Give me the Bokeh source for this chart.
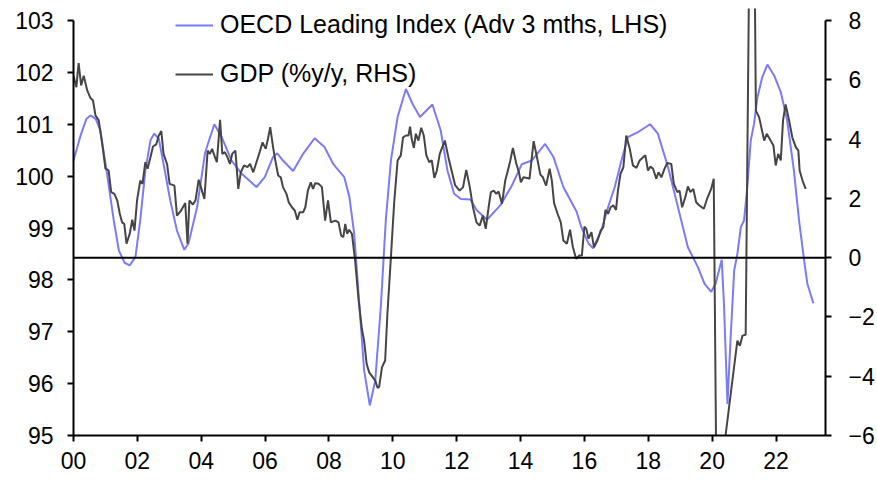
from bokeh.plotting import figure
from bokeh.models import Range1d, LinearAxis, FixedTicker, Span, Legend, LegendItem
from bokeh.embed import file_html
from bokeh.resources import INLINE

# ---- data ----
oecd_dates = [2000.0, 2000.22, 2000.4, 2000.53, 2000.7, 2000.84, 2001.05, 2001.26, 2001.42, 2001.6,
              2001.76, 2001.94, 2002.09, 2002.25, 2002.41, 2002.53, 2002.67, 2002.82, 2003.03, 2003.24,
              2003.47, 2003.6, 2003.87, 2004.12, 2004.41, 2004.64, 2004.95, 2005.26, 2005.73, 2005.99,
              2006.25, 2006.38, 2006.56, 2006.88, 2007.19, 2007.55, 2007.86, 2008.13, 2008.22, 2008.48,
              2008.64, 2008.79, 2008.95, 2009.1, 2009.28, 2009.45, 2009.63, 2009.78, 2009.94, 2010.15,
              2010.41, 2010.62, 2010.85, 2011.24, 2011.5, 2011.71, 2011.92, 2012.13, 2012.43, 2012.63,
              2012.95, 2013.37, 2013.73, 2014.04, 2014.35, 2014.77, 2015.03, 2015.34, 2015.76, 2015.9,
              2016.13, 2016.27, 2016.53, 2016.74, 2016.95, 2017.16, 2017.36, 2017.68, 2018.06, 2018.3,
              2018.62, 2018.93, 2019.24, 2019.55, 2019.76, 2019.97, 2020.11, 2020.3, 2020.37, 2020.48,
              2020.58, 2020.69, 2020.79, 2020.9, 2021.0, 2021.1, 2021.21, 2021.31, 2021.42, 2021.57,
              2021.73, 2021.94, 2022.15, 2022.35, 2022.56, 2022.72, 2022.88, 2022.98, 2023.17]
oecd_values = [100.30, 100.78, 101.10, 101.17, 101.10, 100.88, 100.05, 99.15, 98.57, 98.33,
               98.28, 98.44, 99.15, 100.10, 100.69, 100.82, 100.72, 100.24, 99.53, 98.95,
               98.58, 98.70, 99.40, 100.45, 101.00, 100.75, 100.30, 100.05, 99.79, 99.98,
               100.37, 100.44, 100.30, 100.10, 100.43, 100.73, 100.56, 100.24, 100.17, 99.98,
               99.60, 98.89, 97.54, 96.26, 95.58, 96.06, 97.54, 99.15, 100.30, 101.14,
               101.68, 101.39, 101.14, 101.38, 100.88, 100.11, 99.66, 99.56, 99.55, 99.34,
               99.16, 99.44, 99.82, 100.23, 100.30, 100.62, 100.37, 99.79, 99.31, 99.02,
               98.70, 98.61, 98.95, 99.40, 99.79, 100.30, 100.75, 100.85, 101.00, 100.82,
               100.17, 99.40, 98.63, 98.25, 97.93, 97.77, 97.93, 98.39, 97.54, 95.61,
               96.90, 98.18, 98.50, 99.02, 99.15, 99.79, 100.69, 101.00, 101.52, 101.91,
               102.15, 101.94, 101.62, 101.07, 100.11, 99.15, 98.38, 97.93, 97.55]

gdp_dates = [2000.0, 2000.09, 2000.16, 2000.24, 2000.32, 2000.43, 2000.53, 2000.61, 2000.69, 2000.79,
             2000.9, 2001.0, 2001.1, 2001.18, 2001.28, 2001.37, 2001.45, 2001.52, 2001.59, 2001.66,
             2001.76, 2001.84, 2001.91, 2001.99, 2002.09, 2002.16, 2002.25, 2002.32, 2002.41, 2002.49,
             2002.59, 2002.67, 2002.75, 2002.82, 2002.93, 2003.01, 2003.16, 2003.24, 2003.37, 2003.5,
             2003.57, 2003.63, 2003.74, 2003.82, 2003.92, 2003.99, 2004.1, 2004.2, 2004.27, 2004.34,
             2004.43, 2004.49, 2004.59, 2004.66, 2004.74, 2004.82, 2004.9, 2004.97, 2005.07, 2005.16,
             2005.24, 2005.34, 2005.45, 2005.53, 2005.63, 2005.73, 2005.83, 2005.92, 2006.02, 2006.09,
             2006.16, 2006.25, 2006.32, 2006.41, 2006.49, 2006.56, 2006.67, 2006.74, 2006.84, 2006.93,
             2007.01, 2007.08, 2007.19, 2007.26, 2007.34, 2007.43, 2007.5, 2007.57, 2007.68, 2007.78,
             2007.88, 2007.97, 2008.06, 2008.2, 2008.3, 2008.38, 2008.45, 2008.51, 2008.57, 2008.63,
             2008.72, 2008.82, 2008.93, 2009.03, 2009.1, 2009.18, 2009.26, 2009.37, 2009.45, 2009.52,
             2009.57, 2009.66, 2009.76, 2009.83, 2009.94, 2010.04, 2010.15, 2010.25, 2010.32, 2010.41,
             2010.49, 2010.54, 2010.59, 2010.66, 2010.72, 2010.8, 2010.89, 2010.97, 2011.05, 2011.14,
             2011.22, 2011.3, 2011.38, 2011.47, 2011.55, 2011.63, 2011.74, 2011.84, 2011.95, 2012.09,
             2012.2, 2012.3, 2012.41, 2012.51, 2012.62, 2012.72, 2012.82, 2012.91, 2013.0, 2013.07,
             2013.16, 2013.24, 2013.31, 2013.42, 2013.52, 2013.59, 2013.68, 2013.76, 2013.87, 2013.95,
             2014.01, 2014.09, 2014.2, 2014.28, 2014.41, 2014.51, 2014.62, 2014.7, 2014.8, 2014.91,
             2014.98, 2015.05, 2015.16, 2015.26, 2015.34, 2015.45, 2015.55, 2015.64, 2015.74, 2015.84,
             2015.92, 2016.0, 2016.06, 2016.13, 2016.22, 2016.3, 2016.41, 2016.51, 2016.59, 2016.66,
             2016.74, 2016.82, 2016.91, 2016.99, 2017.05, 2017.13, 2017.22, 2017.31, 2017.42, 2017.52,
             2017.63, 2017.73, 2017.84, 2017.91, 2017.99, 2018.07, 2018.15, 2018.25, 2018.32, 2018.41,
             2018.51, 2018.59, 2018.72, 2018.8, 2018.91, 2018.98, 2019.06, 2019.16, 2019.24, 2019.32,
             2019.41, 2019.5, 2019.6, 2019.74, 2019.84, 2019.97, 2020.05, 2020.25, 2020.42, 2020.79,
             2020.87, 2020.95, 2021.05, 2021.25, 2021.37, 2021.47, 2021.63, 2021.71, 2021.83, 2021.92,
             2021.99, 2022.07, 2022.15, 2022.22, 2022.3, 2022.41, 2022.51, 2022.62, 2022.7, 2022.74,
             2022.83, 2022.93]
gdp_values = [6.14, 5.75, 6.56, 5.81, 6.14, 5.64, 5.39, 5.30, 4.79, 4.63,
              3.84, 3.00, 2.94, 2.21, 2.15, 1.93, 1.48, 1.19, 1.14, 0.47,
              0.80, 1.28, 0.91, 1.93, 2.60, 2.49, 3.22, 3.00, 3.39, 3.75,
              3.82, 4.12, 4.27, 3.50, 3.16, 2.49, 2.43, 1.42, 1.59, 1.84,
              0.47, 1.93, 1.79, 1.93, 2.63, 2.38, 1.98, 3.61, 3.50, 3.67,
              3.39, 3.22, 4.65, 3.50, 3.56, 3.39, 3.16, 3.50, 3.61, 2.32,
              2.88, 3.11, 3.05, 3.16, 2.88, 3.22, 3.56, 3.89, 3.67, 4.01,
              4.40, 3.73, 3.28, 2.77, 2.71, 2.38, 2.15, 1.87, 1.70, 1.59,
              1.28, 1.53, 1.53, 1.70, 2.26, 2.54, 2.32, 2.51, 2.49, 2.38,
              1.25, 1.93, 1.19, 1.25, 1.19, 0.75, 0.69, 1.14, 0.80, 0.94,
              0.80, -0.10, -1.45, -2.40, -2.80, -3.58, -3.87, -4.03, -4.15, -4.39,
              -4.37, -3.70, -3.47, -1.90, 0.01, 1.82, 3.28, 3.45, 4.06, 4.12,
              4.12, 4.42, 4.01, 3.70, 4.18, 3.95, 4.38, 4.12, 3.45, 3.22,
              3.28, 2.69, 2.94, 3.50, 3.73, 3.95, 3.39, 2.94, 2.45, 2.26,
              2.38, 2.96, 2.38, 1.70, 1.19, 1.08, 1.42, 0.97, 1.70, 2.21,
              2.26, 2.15, 2.23, 1.82, 2.60, 2.88, 3.28, 3.70, 3.16, 2.88,
              2.54, 2.71, 2.69, 2.66, 3.93, 3.41, 2.80, 2.71, 2.43, 3.00,
              2.60, 1.84, 1.48, 1.19, 0.58, 0.47, 0.94, 0.35, -0.04, 0.07,
              0.07, 1.05, 0.97, 0.64, 0.86, 0.35, 0.58, 0.91, 1.03, 1.61,
              1.48, 1.70, 1.76, 1.61, 2.26, 2.83, 3.05, 4.12, 3.67, 3.11,
              3.03, 3.28, 3.39, 3.45, 2.94, 3.07, 3.00, 2.66, 2.88, 2.71,
              3.00, 3.19, 3.16, 2.49, 2.21, 2.26, 1.70, 2.04, 2.40, 2.21,
              2.32, 1.87, 1.76, 1.65, 1.98, 2.32, 2.66, -22.0, -6.0, -2.80,
              -2.97, -2.63, -2.60, 20.0, 4.96, 4.74, 3.95, 4.18, 3.95, 3.78,
              3.11, 3.50, 3.28, 4.63, 5.17, 4.63, 4.06, 3.73, 3.61, 2.94,
              2.60, 2.32]

x_tick_years = [2000, 2002, 2004, 2006, 2008, 2010, 2012, 2014, 2016, 2018, 2020, 2022]
x_tick_labels = ["00", "02", "04", "06", "08", "10", "12", "14", "16", "18", "20", "22"]
left_ticks = [95, 96, 97, 98, 99, 100, 101, 102, 103]
right_ticks = [-6, -4, -2, 0, 2, 4, 6, 8]

oecd_label = "OECD Leading Index (Adv 3 mths, LHS)"
gdp_label = "GDP (%y/y, RHS)"

# ---- layout constants ----
FONT = "Liberation Sans"
LEFT_MIN, LEFT_MAX = 95, 103
RIGHT_MIN, RIGHT_MAX = -6, 8
PLOT_H = 415          # pixel height of the axis span
HEADROOM = 12         # extra frame pixels above the top tick (room for the legend)
left_top = LEFT_MAX + HEADROOM * (LEFT_MAX - LEFT_MIN) / PLOT_H
right_top = RIGHT_MAX + HEADROOM * (RIGHT_MAX - RIGHT_MIN) / PLOT_H

p = figure(width=877, height=490, output_backend="svg", toolbar_location=None,
           x_range=Range1d(2000, 2023.55), y_range=Range1d(LEFT_MIN, left_top),
           min_border_left=73, min_border_right=50, min_border_top=20 - HEADROOM,
           min_border_bottom=55)
p.extra_y_ranges = {"right": Range1d(RIGHT_MIN, right_top)}
p.outline_line_color = None
p.xgrid.visible = False
p.ygrid.visible = False
p.background_fill_color = "white"
p.border_fill_color = "white"

r1 = p.line(oecd_dates, oecd_values, line_color="#7b7bf6", line_width=2)
r2 = p.line(gdp_dates, gdp_values, line_color="#454545", line_width=2, y_range_name="right")

zero = Span(location=0, dimension="width", y_range_name="right", line_color="black", line_width=2)
p.add_layout(zero)

raxis = LinearAxis(y_range_name="right")
p.add_layout(raxis, "right")

for ax in [p.xaxis[0], p.yaxis[0], raxis]:
    ax.axis_line_width = 2
    ax.axis_line_color = "black"
    ax.major_tick_line_width = 2
    ax.major_tick_line_color = "black"
    ax.major_tick_out = 6
    ax.major_tick_in = 0
    ax.minor_tick_line_color = None
    ax.major_label_text_font = FONT
    ax.major_label_text_font_size = "23px"
    ax.major_label_text_color = "black"

p.xaxis[0].ticker = FixedTicker(ticks=x_tick_years)
p.xaxis[0].major_label_overrides = {y: l for y, l in zip(x_tick_years, x_tick_labels)}
p.xaxis[0].major_label_standoff = 10
p.yaxis[0].ticker = FixedTicker(ticks=left_ticks)
p.yaxis[0].bounds = (LEFT_MIN, LEFT_MAX)
p.yaxis[0].major_label_standoff = 14
raxis.ticker = FixedTicker(ticks=right_ticks)
raxis.bounds = (RIGHT_MIN, RIGHT_MAX)
raxis.major_label_standoff = 17

legend = Legend(items=[LegendItem(label=oecd_label, renderers=[r1]),
                       LegendItem(label=gdp_label, renderers=[r2])],
                location=(102, 347), orientation="vertical",
                border_line_color=None, background_fill_alpha=0,
                padding=0, margin=0, spacing=20,
                glyph_width=38, glyph_height=26, label_height=26, label_standoff=7,
                label_text_font=FONT, label_text_font_size="25px", label_text_color="black")
p.add_layout(legend)

open("out.html", "w").write(file_html(p, INLINE))
